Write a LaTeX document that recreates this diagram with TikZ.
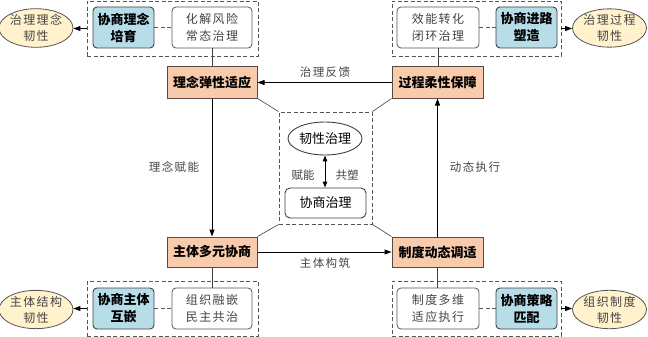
\documentclass[tikz,border=0pt]{standalone}
\usepackage{fontspec}
\setmainfont{Noto Sans CJK SC}
\newfontfamily\cjksp[LetterSpace=12]{Noto Sans CJK SC}
\usetikzlibrary{arrows.meta,shapes.geometric}
\definecolor{orfill}{HTML}{F8CBAD}
\definecolor{orline}{HTML}{5A4A42}
\definecolor{bluefill}{HTML}{B7DDE8}
\definecolor{ellfill}{HTML}{FFF2CC}
\definecolor{lineg}{HTML}{404040}
\definecolor{dashg}{HTML}{555555}
\definecolor{txtg}{HTML}{444444}
\begin{document}
\begin{tikzpicture}[x=1pt,y=-1pt,
  orbox/.style={draw=orline, fill=orfill, line width=1pt, minimum width=90pt, minimum height=31pt, inner sep=0pt, font=\fontsize{13}{15}\selectfont\bfseries},
  bluebox/.style={draw=lineg, fill=bluefill, line width=0.9pt, rounded corners=4pt, minimum width=61pt, minimum height=41pt, inner sep=0pt, align=center, font=\fontsize{13}{17}\selectfont\bfseries},
  whitebox/.style={draw=dashg, fill=white, line width=0.8pt, rounded corners=4pt, minimum width=80pt, minimum height=41pt, inner sep=0pt, align=center, text=txtg, font=\cjksp\fontsize{12}{17}\selectfont},
  ellnode/.style={ellipse, draw=dashg, fill=ellfill, line width=0.8pt, minimum width=70pt, minimum height=38pt, inner sep=0pt, align=center, text=txtg, font=\cjksp\fontsize{12}{16}\selectfont},
  grp/.style={draw=dashg, dashed, dash pattern=on 4pt off 2.5pt, line width=0.9pt, minimum width=171pt, minimum height=55pt, inner sep=0pt},
  lnk/.style={draw=dashg, dash pattern=on 4pt off 2.5pt, line width=0.9pt},
  arr/.style={draw=black, line width=1pt, -{Triangle[length=7pt,width=5pt]}},
  solid1/.style={draw=lineg, line width=0.9pt},
  lbl/.style={text=txtg, font=\cjksp\fontsize{11.5}{14}\selectfont, inner sep=0pt}
]
\useasboundingbox (0,0) rectangle (648,337);

% top-left group
\node[grp] (gTL) at (172.5,28.5) {};
\node[bluebox] (bTL) at (123.5,27.5) {协商理念\\培育};
\node[whitebox] (wTL) at (212,27.5) {化解风险\\常态治理};
\node[ellnode] (eTL) at (36,28) {治理理念\\韧性};
\draw[lnk] (bTL.east) -- (wTL.west);
\draw[arr] (gTL.west) -- (gTL.west -| eTL.east);

% top-right group
\node[grp, minimum width=169pt] (gTR) at (476.5,28.5) {};
\node[whitebox, minimum width=82pt] (wTR) at (438,27.5) {效能转化\\闭环治理};
\node[bluebox] (bTR) at (526.5,27.5) {协商进路\\塑造};
\node[ellnode, minimum width=71pt] (eTR) at (609.5,28) {治理过程\\韧性};
\draw[lnk] (wTR.east) -- (bTR.west);
\draw[arr] (gTR.east) -- (gTR.east -| eTR.west);

% bottom-left group
\node[grp] (gBL) at (172.5,308.5) {};
\node[bluebox] (bBL) at (123.5,308.5) {协商主体\\互嵌};
\node[whitebox] (wBL) at (212,308.5) {组织融嵌\\民主共治};
\node[ellnode, minimum height=37pt] (eBL) at (36,309.5) {主体结构\\韧性};
\draw[lnk] (bBL.east) -- (wBL.west);
\draw[arr] (gBL.west) -- (gBL.west -| eBL.east);

% bottom-right group
\node[grp, minimum width=169pt] (gBR) at (476.5,308.5) {};
\node[whitebox, minimum width=82pt] (wBR) at (438,308.5) {制度多维\\适应执行};
\node[bluebox] (bBR) at (526.5,308.5) {协商策略\\匹配};
\node[ellnode, minimum width=71pt, minimum height=37pt] (eBR) at (609.5,309.5) {组织制度\\韧性};
\draw[lnk] (wBR.east) -- (bBR.west);
\draw[arr] (gBR.east) -- (gBR.east -| eBR.west);

% orange boxes
\node[orbox] (oTL) at (212,82.5) {理念弹性适应};
\node[orbox, minimum width=91pt] (oTR) at (437.5,82.5) {过程柔性保障};
\node[orbox, minimum height=30pt] (oBL) at (212,252) {主体多元协商};
\node[orbox, minimum width=91pt, minimum height=30pt] (oBR) at (437.5,252) {制度动态调适};

% links white boxes to orange boxes
\draw[solid1] (wTL.south) -- (oTL.north);
\draw[solid1] (wTR.south) -- (wTR.south |- oTR.north);
\draw[solid1] (oBL.south) -- (oBL.south |- wBL.north);
\draw[solid1] (oBR.south) -- (oBR.south |- wBR.north);

% center
\node[grp, minimum width=93pt, minimum height=112pt] (ctr) at (325.5,168) {};
\node[ellipse, draw=lineg, fill=white, line width=0.9pt, minimum width=74pt, minimum height=33pt, inner sep=0pt, font=\fontsize{13}{15}\selectfont] (cE) at (325,138.5) {韧性治理};
\node[draw=lineg, fill=white, line width=0.9pt, rounded corners=5pt, minimum width=81pt, minimum height=30pt, inner sep=0pt, font=\fontsize{13}{15}\selectfont] (cB) at (325.5,203) {协商治理};
\draw[line width=1pt, {Triangle[length=6pt,width=4.5pt]}-{Triangle[length=6pt,width=4.5pt]}] (cE.south) -- (cE.south |- cB.north);
\node[lbl, font=\fontsize{11.5}{14}\selectfont] (l1) at (303,175) {赋能};
\node[lbl, font=\fontsize{11.5}{14}\selectfont] (l2) at (347,175) {共塑};

% corner links
\draw[solid1, line width=0.7pt, draw=dashg] (oTL.south east) -- (ctr.north west);
\draw[solid1, line width=0.7pt, draw=dashg] (oTR.south west) -- (ctr.north east);
\draw[solid1, line width=0.7pt, draw=dashg] (oBL.north east) -- (ctr.south west);
\draw[solid1, line width=0.7pt, draw=dashg] (oBR.north west) -- (ctr.south east);

% main arrows
\draw[arr] (oTR.west) -- (oTL.east);
\draw[arr] (oTL.south) -- (oBL.north);
\draw[arr] (oBL.east) -- (oBR.west);
\draw[arr] (oBR.north) -- (oTR.south);

\node[lbl] (a1) at (325,72) {治理反馈};
\node[lbl] (a2) at (174,167.5) {理念赋能};
\node[lbl] (a3) at (325,263) {主体构筑};
\node[lbl] (a4) at (475,167) {动态执行};
\end{tikzpicture}
\end{document}
